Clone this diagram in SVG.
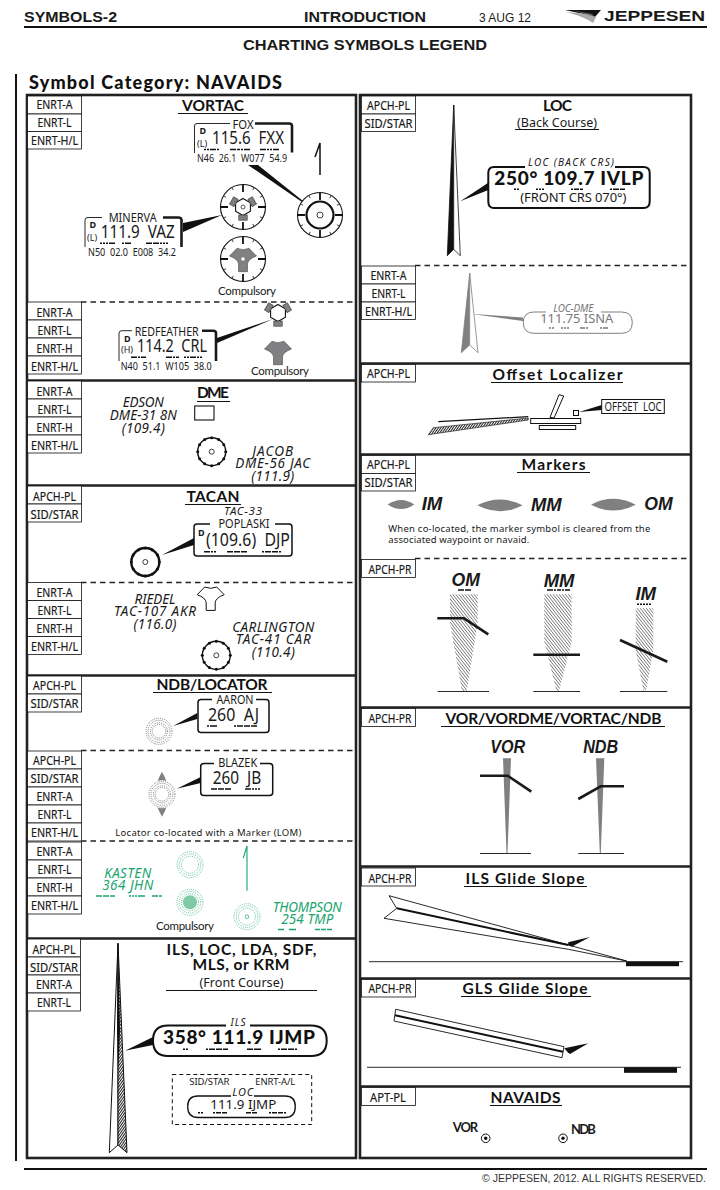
<svg xmlns="http://www.w3.org/2000/svg" xmlns:xlink="http://www.w3.org/1999/xlink" width="720" height="1190" viewBox="0 0 720 1190">
<style>
text{font-family:"Noto Sans","Liberation Sans",sans-serif;fill:#1a1a1a;white-space:pre}
.hd{font-family:"Liberation Sans",Arial,sans-serif;font-weight:700}
.ti{font-family:"Lato","Liberation Sans",sans-serif;font-weight:700;font-size:15.500px;text-anchor:middle;fill:#111}
.tg{font-size:12.500px;text-anchor:middle;stroke:#1a1a1a;stroke-width:.2}
.lb{font-size:12.500px;text-anchor:middle}
.f{font-size:17.500px}
.fb{font-family:"Lato","Liberation Sans",sans-serif;font-weight:900;font-size:19px;fill:#111}
.co{font-size:10px}
.it{font-style:italic;font-size:13.500px;text-anchor:middle}
.bi{font-family:"Liberation Sans",sans-serif;font-weight:700;font-style:italic;font-size:18px}
.sm{font-size:9.500px}
.cp{font-family:"Lato",sans-serif;font-size:11.500px;text-anchor:middle}
.gr{fill:#1aa56e}
.tr{stroke:#111;stroke-width:.8;fill:#fff}
.frame{fill:none;stroke:#222;stroke-width:2.600}
.div{stroke:#222;stroke-width:2.600;fill:none}
.dash{stroke:#222;stroke-width:1.600;stroke-dasharray:5.500 4;fill:none}
.ul{stroke:#111;stroke-width:1}
.m{fill:none;stroke:#111;stroke-width:1.500}
.hv{fill:none;stroke:#1a1a1a;stroke-width:2.600}
.thin{fill:none;stroke:#111;stroke-width:.9}
.lead{fill:#111}
.ring{fill:none;stroke:#444;stroke-width:.7;stroke-dasharray:.9 1.100}
.gring{fill:none;stroke:#1aa56e;stroke-width:.7;stroke-dasharray:.9 1.100}
.gy{fill:#808082}
</style>
<defs>
<pattern id="hatch" width="2.400" height="2.400" patternUnits="userSpaceOnUse" patternTransform="rotate(-38)">
<rect width="2.400" height="2.400" fill="#fff"/><rect width=".8" height="2.400" fill="#777"/>
</pattern>
<pattern id="hatchd" width="2" height="2" patternUnits="userSpaceOnUse" patternTransform="rotate(35)">
<rect width="2" height="2" fill="#fff"/><rect width="1" height="2" fill="#222"/>
</pattern>
<g id="rose">
<circle r="22.500" fill="#fff" stroke="#111" stroke-width="1.100"/>
<path d="M0-22.500V-15M0 22.500V15M-22.500 0H-15M22.500 0H15" stroke="#111" stroke-width="1.800" fill="none"/>
<path d="M11.200-19.500 9.700-16.900M19.500-11.200 16.900-9.700M19.500 11.200 16.900 9.700M11.200 19.500 9.700 16.900M-11.200 19.500-9.700 16.900M-19.500 11.200-16.900 9.700M-19.500-11.200-16.900-9.700M-11.200-19.500-9.700-16.900" stroke="#111" stroke-width=".8" fill="none"/>
</g>
<path id="ypath" d="M-13.500-3-6-10.700Q0-8 6-10.700L13.500-3Q5 0 4.500 5V12.700H-4.500V5Q-5 0-13.500-3Z"/>
<g id="hexy">
<path d="M0-8.500 7.400-4.200V4.200L0 8.500-7.400 4.200V-4.200Z" fill="#fff" stroke="#111" stroke-width="1.100"/>
<rect x="-4.200" y="8" width="8.400" height="5.200" class="gy" stroke="#333" stroke-width=".6"/>
<rect x="-4.200" y="8" width="8.400" height="5.200" class="gy" stroke="#333" stroke-width=".6" transform="rotate(120)"/>
<rect x="-4.200" y="8" width="8.400" height="5.200" class="gy" stroke="#333" stroke-width=".6" transform="rotate(240)"/>
</g>
<g id="bumps" fill="#111">
<circle cx="0" cy="-14" r="1.500"/><circle cx="7" cy="-12.100" r="1.500"/><circle cx="12.100" cy="-7" r="1.500"/><circle cx="14" cy="0" r="1.500"/><circle cx="12.100" cy="7" r="1.500"/><circle cx="7" cy="12.100" r="1.500"/><circle cx="0" cy="14" r="1.500"/><circle cx="-7" cy="12.100" r="1.500"/><circle cx="-12.100" cy="7" r="1.500"/><circle cx="-14" cy="0" r="1.500"/><circle cx="-12.100" cy="-7" r="1.500"/><circle cx="-7" cy="-12.100" r="1.500"/>
</g>
<g id="ndb"><circle r="13" class="ring"/><circle r="11" class="ring"/><circle r="8.500" class="ring"/><circle r="6.800" class="ring"/></g>
<g id="gndb"><circle r="13" class="gring"/><circle r="10.800" class="gring"/><circle r="8.500" class="gring"/></g>
</defs>
<rect width="720" height="1190" fill="#fff"/>

<g id="header">
<text class="hd" x="24" y="22" font-size="14.800" textLength="93" lengthAdjust="spacingAndGlyphs">SYMBOLS-2</text>
<text class="hd" x="304" y="22" font-size="14.800" textLength="122" lengthAdjust="spacingAndGlyphs">INTRODUCTION</text>
<text style="font-family:'Liberation Sans',sans-serif" x="479" y="22" font-size="12" textLength="52">3 AUG 12</text>
<g id="logo"><path d="M565 10H601L595 17 588 15Z" fill="#111"/><path d="M566 12 589 14 596 17 593 23Q585 17 566 12Z" fill="#aaa"/><path d="M573 10.500 592 14 594 16.500Z" fill="#666"/></g>
<text class="hd" x="604" y="21" font-size="14.800" textLength="101" lengthAdjust="spacingAndGlyphs">JEPPESEN</text>
<line x1="24" y1="27" x2="707" y2="27" stroke="#111" stroke-width="2"/>
<text class="hd" x="365" y="50" font-size="15.500" text-anchor="middle" textLength="244" lengthAdjust="spacingAndGlyphs">CHARTING SYMBOLS LEGEND</text>
<line x1="16" y1="74" x2="16" y2="1161" stroke="#111" stroke-width="2"/>
<text x="29" y="89" style="font-family:Lato,sans-serif;font-weight:900;font-size:18px;fill:#111" textLength="253">Symbol Category: NAVAIDS</text>
<line x1="24" y1="1169" x2="707" y2="1169" stroke="#111" stroke-width="2"/>
<text style="font-family:'Liberation Sans',sans-serif;fill:#333" x="706" y="1182" font-size="10.500" text-anchor="end" textLength="224">© JEPPESEN, 2012. ALL RIGHTS RESERVED.</text>
</g>

<g id="frames">
<rect class="frame" x="27" y="95" width="329" height="1063"/>
<rect class="frame" x="360" y="95" width="331" height="1063"/>
<path class="div" d="M27 380.500H356M27 485.500H356M27 675.500H356M27 938.500H356M360 363.500H691M360 454.500H691M360 707.500H691M360 866.500H691M360 978.500H691M360 1086.500H691"/>
<path class="dash" d="M81 302H356M81 582.500H356M81 750.500H356M81 841H356M415 265.500H691M415 558.500H691"/>
</g>

<g id="tags">
<g class="tr">
<rect x="27.500" y="96" width="54" height="18"/><rect x="27.500" y="114" width="54" height="17.500"/><rect x="27.500" y="131.500" width="54" height="17.500"/>
<rect x="27.500" y="302" width="54" height="18"/><rect x="27.500" y="320" width="54" height="18"/><rect x="27.500" y="338" width="54" height="18"/><rect x="27.500" y="356" width="54" height="18"/>
<rect x="27.500" y="381" width="54" height="18"/><rect x="27.500" y="399" width="54" height="18"/><rect x="27.500" y="417" width="54" height="18"/><rect x="27.500" y="435" width="54" height="18"/>
<rect x="27.500" y="486" width="54" height="18"/><rect x="27.500" y="504" width="54" height="18"/>
<rect x="27.500" y="582.500" width="54" height="18"/><rect x="27.500" y="600.500" width="54" height="18"/><rect x="27.500" y="618.500" width="54" height="18"/><rect x="27.500" y="636.500" width="54" height="18"/>
<rect x="27.500" y="676" width="54" height="18"/><rect x="27.500" y="694" width="54" height="18"/>
<rect x="27.500" y="751" width="54" height="18"/><rect x="27.500" y="769" width="54" height="18"/><rect x="27.500" y="787" width="54" height="18"/><rect x="27.500" y="805" width="54" height="18"/><rect x="27.500" y="823" width="54" height="18"/>
<rect x="27.500" y="842" width="54" height="18"/><rect x="27.500" y="860" width="54" height="18"/><rect x="27.500" y="878" width="54" height="18"/><rect x="27.500" y="896" width="54" height="18"/>
<rect x="27.500" y="939" width="53" height="18"/><rect x="27.500" y="957" width="53" height="18"/><rect x="27.500" y="975" width="53" height="18"/><rect x="27.500" y="993" width="53" height="18"/>
<rect x="361.500" y="96" width="54" height="18"/><rect x="361.500" y="114" width="54" height="17.500"/>
<rect x="361.500" y="266" width="54" height="18"/><rect x="361.500" y="284" width="54" height="18"/><rect x="361.500" y="302" width="54" height="17.500"/>
<rect x="361.500" y="364.500" width="54" height="17.500"/>
<rect x="361.500" y="455.500" width="54" height="18"/><rect x="361.500" y="473.500" width="54" height="17.500"/>
<rect x="361.500" y="559.500" width="54" height="18"/>
<rect x="361.500" y="708.500" width="54" height="18"/>
<rect x="361.500" y="868" width="54" height="18"/>
<rect x="361.500" y="979.500" width="54" height="17.500"/>
<rect x="361.500" y="1087.500" width="54" height="18"/>
</g>
<g>
<text class="tg" x="54.500" y="108.500" textLength="36" lengthAdjust="spacingAndGlyphs">ENRT-A</text><text class="tg" x="54.500" y="127" textLength="34" lengthAdjust="spacingAndGlyphs">ENRT-L</text><text class="tg" x="54.500" y="145" textLength="47" lengthAdjust="spacingAndGlyphs">ENRT-H/L</text>
<text class="tg" x="54.500" y="316.500" textLength="36" lengthAdjust="spacingAndGlyphs">ENRT-A</text><text class="tg" x="54.500" y="334.500" textLength="34" lengthAdjust="spacingAndGlyphs">ENRT-L</text><text class="tg" x="54.500" y="352.500" textLength="36" lengthAdjust="spacingAndGlyphs">ENRT-H</text><text class="tg" x="54.500" y="370.500" textLength="47" lengthAdjust="spacingAndGlyphs">ENRT-H/L</text>
<text class="tg" x="54.500" y="395.500" textLength="36" lengthAdjust="spacingAndGlyphs">ENRT-A</text><text class="tg" x="54.500" y="413.500" textLength="34" lengthAdjust="spacingAndGlyphs">ENRT-L</text><text class="tg" x="54.500" y="431.500" textLength="36" lengthAdjust="spacingAndGlyphs">ENRT-H</text><text class="tg" x="54.500" y="449.500" textLength="47" lengthAdjust="spacingAndGlyphs">ENRT-H/L</text>
<text class="tg" x="54.500" y="500.500" textLength="43" lengthAdjust="spacingAndGlyphs">APCH-PL</text><text class="tg" x="54.500" y="518.500" textLength="48" lengthAdjust="spacingAndGlyphs">SID/STAR</text>
<text class="tg" x="54.500" y="596.500" textLength="36" lengthAdjust="spacingAndGlyphs">ENRT-A</text><text class="tg" x="54.500" y="614.500" textLength="34" lengthAdjust="spacingAndGlyphs">ENRT-L</text><text class="tg" x="54.500" y="632.500" textLength="36" lengthAdjust="spacingAndGlyphs">ENRT-H</text><text class="tg" x="54.500" y="650.500" textLength="47" lengthAdjust="spacingAndGlyphs">ENRT-H/L</text>
<text class="tg" x="54.500" y="689.500" textLength="43" lengthAdjust="spacingAndGlyphs">APCH-PL</text><text class="tg" x="54.500" y="707.500" textLength="48" lengthAdjust="spacingAndGlyphs">SID/STAR</text>
<text class="tg" x="54.500" y="764.500" textLength="43" lengthAdjust="spacingAndGlyphs">APCH-PL</text><text class="tg" x="54.500" y="782.500" textLength="48" lengthAdjust="spacingAndGlyphs">SID/STAR</text><text class="tg" x="54.500" y="800.500" textLength="36" lengthAdjust="spacingAndGlyphs">ENRT-A</text><text class="tg" x="54.500" y="818.500" textLength="34" lengthAdjust="spacingAndGlyphs">ENRT-L</text><text class="tg" x="54.500" y="836.500" textLength="47" lengthAdjust="spacingAndGlyphs">ENRT-H/L</text>
<text class="tg" x="54.500" y="855.500" textLength="36" lengthAdjust="spacingAndGlyphs">ENRT-A</text><text class="tg" x="54.500" y="873.500" textLength="34" lengthAdjust="spacingAndGlyphs">ENRT-L</text><text class="tg" x="54.500" y="891.500" textLength="36" lengthAdjust="spacingAndGlyphs">ENRT-H</text><text class="tg" x="54.500" y="909.500" textLength="47" lengthAdjust="spacingAndGlyphs">ENRT-H/L</text>
<text class="tg" x="54" y="953.500" textLength="43" lengthAdjust="spacingAndGlyphs">APCH-PL</text><text class="tg" x="54" y="971.500" textLength="48" lengthAdjust="spacingAndGlyphs">SID/STAR</text><text class="tg" x="54" y="988.500" textLength="36" lengthAdjust="spacingAndGlyphs">ENRT-A</text><text class="tg" x="54" y="1006.500" textLength="34" lengthAdjust="spacingAndGlyphs">ENRT-L</text>
<text class="tg" x="388.500" y="109.500" textLength="43" lengthAdjust="spacingAndGlyphs">APCH-PL</text><text class="tg" x="388.500" y="127.500" textLength="48" lengthAdjust="spacingAndGlyphs">SID/STAR</text>
<text class="tg" x="388.500" y="279.500" textLength="36" lengthAdjust="spacingAndGlyphs">ENRT-A</text><text class="tg" x="388.500" y="297.500" textLength="34" lengthAdjust="spacingAndGlyphs">ENRT-L</text><text class="tg" x="388.500" y="315.500" textLength="47" lengthAdjust="spacingAndGlyphs">ENRT-H/L</text>
<text class="tg" x="388.500" y="377.500" textLength="43" lengthAdjust="spacingAndGlyphs">APCH-PL</text>
<text class="tg" x="388.500" y="468.500" textLength="43" lengthAdjust="spacingAndGlyphs">APCH-PL</text><text class="tg" x="388.500" y="486.500" textLength="48" lengthAdjust="spacingAndGlyphs">SID/STAR</text>
<text class="tg" x="390" y="573.500" textLength="43" lengthAdjust="spacingAndGlyphs">APCH-PR</text>
<text class="tg" x="390" y="722.500" textLength="43" lengthAdjust="spacingAndGlyphs">APCH-PR</text>
<text class="tg" x="390" y="882.500" textLength="43" lengthAdjust="spacingAndGlyphs">APCH-PR</text>
<text class="tg" x="390" y="992.500" textLength="43" lengthAdjust="spacingAndGlyphs">APCH-PR</text>
<text class="tg" x="388" y="1101.500" textLength="36" lengthAdjust="spacingAndGlyphs">APT-PL</text>
</g>
</g>

<g id="titles">
<text class="ti" x="213" y="111" textLength="62">VORTAC</text><line class="ul" x1="178" y1="113.500" x2="248" y2="113.500"/>
<text class="ti" x="213" y="398" textLength="32">DME</text><line class="ul" x1="197" y1="401.500" x2="230" y2="401.500"/>
<text class="ti" x="213" y="502" textLength="53">TACAN</text><line class="ul" x1="185" y1="504.500" x2="241" y2="504.500"/>
<text class="ti" x="212" y="690" textLength="111">NDB/LOCATOR</text><line class="ul" x1="153" y1="692.500" x2="272" y2="692.500"/>
<text class="ti" x="241.500" y="955" textLength="150">ILS, LOC, LDA, SDF,</text>
<text class="ti" x="241" y="970" textLength="97">MLS, or KRM</text>
<text class="lb" x="241.500" y="987" textLength="84">(Front Course)</text><line class="ul" x1="166" y1="990.500" x2="317" y2="990.500"/>
<text class="ti" x="557.500" y="111" textLength="29">LOC</text>
<text class="lb" x="557" y="127" textLength="80">(Back Course)</text><line class="ul" x1="515" y1="129.500" x2="599" y2="129.500"/>
<text class="ti" x="557.500" y="380" textLength="130">Offset Localizer</text><line class="ul" x1="491" y1="382.500" x2="623" y2="382.500"/>
<text class="ti" x="553.500" y="470" textLength="64">Markers</text><line class="ul" x1="517" y1="472.500" x2="590" y2="472.500"/>
<text class="ti" x="553.500" y="724" textLength="216">VOR/VORDME/VORTAC/NDB</text><line class="ul" x1="441" y1="726.500" x2="665" y2="726.500"/>
<text class="ti" x="525" y="884" textLength="119">ILS Glide Slope</text><line class="ul" x1="464" y1="886.500" x2="587" y2="886.500"/>
<text class="ti" x="525" y="994" textLength="125">GLS Glide Slope</text><line class="ul" x1="461" y1="996.500" x2="591" y2="996.500"/>
<text class="ti" x="525.500" y="1103" textLength="70">NAVAIDS</text><line class="ul" x1="490" y1="1105.500" x2="562" y2="1105.500"/>
</g>

<g id="connectors">
<polygon class="lead" points="248,165 258,165 303,201 302,202"/>
<polygon class="lead" points="183,223 183,232 222,215"/>
<polygon class="lead" points="217,338 217,343 273,319"/>
<polygon class="lead" points="194,538 194,545 162,555"/>
<polygon class="lead" points="197.300,713 197.300,719 173,726"/>
<polygon class="lead" points="200.700,777 200.700,783 176.700,788.700"/>
<polygon class="lead" points="153,1037 153,1045 125,1050.700"/>
<polygon class="lead" points="488.300,182.700 488.300,190 460.300,201.300"/>
<polygon class="gy" points="523,317.500 523,321 473.700,314.300 473.700,314"/>
<polygon class="lead" points="601.700,405 601.700,410 579,412"/>
</g>

<g id="vortac-fox">
<path class="thin" d="M230 123.500H197Q194.500 123.500 194.500 126V153"/>
<path class="hv" d="M255 123.500H289Q292 123.500 292 126V152.500"/>
<text class="lb" x="243" y="128.500" textLength="21" lengthAdjust="spacingAndGlyphs">FOX</text>
<text x="199.500" y="134" style="font-weight:700;font-size:9px">D</text>
<text x="197" y="147" style="font-size:9px">(L)</text>
<text class="f" x="212" y="144" textLength="72" lengthAdjust="spacingAndGlyphs">115.6  FXX</text>
<path class="m" d="M204 149.500h2m1 0h2m1 0h6m1 0h2M230 149.500h6m1 0h3m1 0h2m1 0h6M260 149.500h6m1 0h2m1 0h2m1 0h6"/>
<text class="co" x="197" y="162" textLength="90" lengthAdjust="spacingAndGlyphs">N46  26.1  W077  54.9</text>
</g>
<g id="north-arrow"><path d="M320 175V143L315 157" fill="none" stroke="#111" stroke-width="1.500"/></g>
<g id="vortac-symbol" transform="translate(320,215)">
<use xlink:href="#rose" href="#rose"/>
<circle r="13.500" fill="#fff" stroke="#111" stroke-width="2.200"/><circle r="3" fill="#fff" stroke="#111" stroke-width=".8"/>
</g>

<g id="vortac-minerva">
<path class="thin" d="M102 217.500H88Q85 217.500 85 220V247"/>
<path class="hv" d="M163 217.500H178Q181.500 217.500 181.500 220V247"/>
<text class="lb" x="132.700" y="222" textLength="48" lengthAdjust="spacingAndGlyphs">MINERVA</text>
<text x="89.500" y="228" style="font-weight:700;font-size:9px">D</text>
<text x="87" y="241" style="font-size:9px">(L)</text>
<text class="f" x="100.700" y="238" textLength="74" lengthAdjust="spacingAndGlyphs">111.9  VAZ</text>
<path class="m" d="M100 243.300h2m1 0h2m1 0h2m1 0h6M122 243.300h2m1 0h6M146 243.300h6m1 0h6m1 0h2m1 0h2m1 0h2"/>
<text class="co" x="88" y="256" textLength="88" lengthAdjust="spacingAndGlyphs">N50  02.0  E008  34.2</text>
</g>
<g id="vor-minerva" transform="translate(243,207)"><use xlink:href="#rose" href="#rose"/><use xlink:href="#hexy" href="#hexy"/><circle r="2" fill="#fff" stroke="#111" stroke-width=".7"/></g>
<g id="vor-compulsory" transform="translate(243,259)"><use xlink:href="#rose" href="#rose"/><use xlink:href="#ypath" href="#ypath" class="gy" stroke="#333" stroke-width=".5"/><circle r="1.800" fill="#fff"/></g>
<text class="cp" x="247" y="295" textLength="58">Compulsory</text>

<g id="vortac-redfeather">
<path class="thin" d="M132 330.700H122Q119 330.700 119 333V361"/>
<path class="hv" d="M202 330.700H213Q216 330.700 216 333V361"/>
<text class="lb" x="166.700" y="335.500" textLength="64" lengthAdjust="spacingAndGlyphs">REDFEATHER</text>
<text x="124" y="342" style="font-weight:700;font-size:9px">D</text>
<text x="121" y="353" style="font-size:9px">(H)</text>
<text class="f" x="137" y="352" textLength="70" lengthAdjust="spacingAndGlyphs">114.2  CRL</text>
<path class="m" d="M131 357.300h6m1 0h2m1 0h5M166 357.300h6m1 0h2m1 0h3M184 357.300h2m1 0h2m1 0h6m1 0h2m1 0h2"/>
<text class="co" x="120.700" y="369.500" textLength="91" lengthAdjust="spacingAndGlyphs">N40  51.1  W105  38.0</text>
</g>
<g id="vortac-enroute" transform="translate(278,313)"><use xlink:href="#hexy" href="#hexy"/></g>
<g id="vortac-enroute-compulsory" transform="translate(278,352)"><use xlink:href="#ypath" href="#ypath" class="gy" stroke="#333" stroke-width=".5"/></g>
<text class="cp" x="280" y="375" textLength="58">Compulsory</text>

<g id="dme-edson">
<text class="it" x="143.300" y="407" textLength="41">EDSON</text>
<text class="it" x="143.300" y="420" textLength="67">DME-31 8N</text>
<text class="it" x="143.300" y="433" textLength="43">(109.4)</text>
<rect x="194.700" y="406" width="19.300" height="14" fill="#fff" stroke="#111" stroke-width="1.100"/>
</g>
<g id="dme-jacob">
<circle cx="211.700" cy="451.700" r="14" fill="#fff" stroke="#111" stroke-width="1.400"/><circle cx="211.700" cy="451.700" r="2.500" fill="#fff" stroke="#111" stroke-width=".8"/>
<use xlink:href="#bumps" href="#bumps" transform="translate(211.700,451.700)"/>
<text class="it" x="272.700" y="456" textLength="41">JACOB</text>
<text class="it" x="272.700" y="468" textLength="75">DME-56 JAC</text>
<text class="it" x="272.700" y="481" textLength="43">(111.9)</text>
</g>

<g id="tacan-poplaski">
<text class="it" x="243" y="515" style="font-size:11.500px" textLength="38">TAC-33</text>
<path d="M210 524H197Q194 524 194 527V553Q194 556 197 556H289Q292 556 292 553V527Q292 524 289 524H275" fill="#fff" stroke="#111" stroke-width="1.500"/>
<text class="lb" x="244" y="528" textLength="51" lengthAdjust="spacingAndGlyphs">POPLASKI</text>
<text x="198" y="536" style="font-weight:700;font-size:9px">D</text>
<text class="f" x="206" y="546" textLength="84" lengthAdjust="spacingAndGlyphs">(109.6)  DJP</text>
<path class="m" d="M204 551.700h6m1 0h2m1 0h2M227 551.700h6m1 0h6m1 0h6M262 551.700h2m1 0h6m1 0h6m1 0h2"/>
</g>
<g id="tacan-symbol" transform="translate(145.300,562)">
<circle r="14" fill="#fff" stroke="#111" stroke-width="2.400"/><circle r="2.500" fill="#fff" stroke="#111" stroke-width=".8"/><use xlink:href="#bumps" href="#bumps"/>
</g>
<g id="tacan-riedel">
<use xlink:href="#ypath" href="#ypath" transform="translate(210.700,597.700)" fill="#fff" stroke="#111" stroke-width="1"/>
<text class="it" x="155" y="604" textLength="41">RIEDEL</text>
<text class="it" x="155" y="616" textLength="82">TAC-107 AKR</text>
<text class="it" x="155" y="629" textLength="43">(116.0)</text>
</g>
<g id="tacan-carlington">
<circle cx="216.300" cy="655.300" r="14" fill="#fff" stroke="#111" stroke-width="1.400"/><circle cx="216.300" cy="655.300" r="2.500" fill="#fff" stroke="#111" stroke-width=".8"/>
<use xlink:href="#bumps" href="#bumps" transform="translate(216.300,655.300)"/>
<text class="it" x="273.300" y="632" textLength="82">CARLINGTON</text>
<text class="it" x="273.300" y="644" textLength="75">TAC-41 CAR</text>
<text class="it" x="273.300" y="657" textLength="43">(110.4)</text>
</g>

<g id="ndb-aaron">
<path d="M212 699.500H201Q198 699.500 198 702.500V729.500Q198 732.500 201 732.500H266Q269 732.500 269 729.500V702.500Q269 699.500 266 699.500H256" fill="#fff" stroke="#111" stroke-width="1.500"/>
<text class="lb" x="235" y="703.500" textLength="37" lengthAdjust="spacingAndGlyphs">AARON</text>
<text class="f" x="208" y="720.700" textLength="51" lengthAdjust="spacingAndGlyphs">260  AJ</text>
<path class="m" d="M207 726h2m1 0h7M234 726h2m1 0h6m1 0h6m1 0h6"/>
</g>
<use id="ndb-aaron-symbol" xlink:href="#ndb" href="#ndb" transform="translate(159,731.300)"/>
<g id="ndb-blazek">
<path d="M214 763.500H204Q200.700 763.500 200.700 766.500V792.500Q200.700 795.500 204 795.500H269.500Q272.700 795.500 272.700 792.500V766.500Q272.700 763.500 269.500 763.500H260" fill="#fff" stroke="#111" stroke-width="1.500"/>
<text class="lb" x="237.700" y="767" textLength="39" lengthAdjust="spacingAndGlyphs">BLAZEK</text>
<text class="f" x="212.700" y="784" textLength="48.500" lengthAdjust="spacingAndGlyphs">260  JB</text>
<path class="m" d="M211 789h6m1 0h6m1 0h6M245 789h6m1 0h2m1 0h2m1 0h2"/>
</g>
<g id="lom" transform="translate(162,794.300)">
<path d="M0-22.500Q6-12 8 0Q6 12 0 22.500Q-6 12-8 0Q-6-12 0-22.500Z" class="gy"/>
<circle r="14" fill="#fff"/><use xlink:href="#ndb" href="#ndb"/>
</g>
<text class="sm" x="208.300" y="835.500" text-anchor="middle" textLength="186">Locator co-located with a Marker (LOM)</text>

<g id="ndb-enroute">
<use id="green-ndb-1" xlink:href="#gndb" href="#gndb" transform="translate(190,864.700)"/>
<g id="green-ndb-2" transform="translate(190,902.300)"><use xlink:href="#gndb" href="#gndb"/><circle r="7" fill="#7fc9a6"/></g>
<g id="green-ndb-3" transform="translate(247,916.700)"><use xlink:href="#gndb" href="#gndb"/><circle r="1.800" fill="none" stroke="#1aa56e" stroke-width=".7"/></g>
<path d="M247 890.700V846L243.300 858" fill="none" stroke="#1aa56e" stroke-width="1.100"/>
<text class="it gr" x="127.700" y="878" textLength="47">KASTEN</text>
<text class="it gr" x="127.700" y="890" textLength="51">364 JHN</text>
<path class="m" style="stroke:#1aa56e" d="M96 896h6m1 0h6m1 0h5M129 896h2m1 0h2m1 0h2m1 0h7M152 896h6m1 0h3"/>
<text class="it gr" x="307.300" y="912" textLength="69">THOMPSON</text>
<text class="it gr" x="307.300" y="923.500" textLength="52">254 TMP</text>
<path class="m" style="stroke:#1aa56e" d="M278 929.500h6M289 929.500h7M315 929.500h5m1 0h5m1 0h5"/>
<text class="cp" x="185" y="930" textLength="58">Compulsory</text>
</g>

<g id="ils-front">
<path d="M118 943.300 109.300 1152.700 118 1145Z" fill="#fff" stroke="#111" stroke-width="1"/>
<path d="M118 943.300 127 1152.700 118 1145Z" fill="url(#hatchd)" stroke="#111" stroke-width="1"/>
<path d="M118 943.300 120 1030 118.500 1070 117 1030Z" fill="#111"/>
<path d="M168 1025.500Q153 1025.500 153 1040.500Q153 1056 168 1056H311Q326.700 1056 326.700 1040.500Q326.700 1025.500 311 1025.500H250M226 1025.500H168" fill="#fff" stroke="#111" stroke-width="2"/>
<text class="it" x="238" y="1025.500" style="font-size:10px" textLength="15">ILS</text>
<text class="fb" x="163" y="1043.500" textLength="152">358° 111.9 IJMP</text>
<path class="m" d="M183 1049.300h2m1 0h2M206 1049.300h2m1 0h6m1 0h6m1 0h5M247 1049.300h6m1 0h7M278 1049.300h2m1 0h6m1 0h6m1 0h2"/>
<rect x="172.300" y="1074.500" width="139.400" height="50" fill="#fff" stroke="#111" stroke-width="1" stroke-dasharray="4 3"/>
<text class="sm" x="209.300" y="1084.500" text-anchor="middle" textLength="40">SID/STAR</text>
<text class="sm" x="275.300" y="1084.500" text-anchor="middle" textLength="40">ENRT-A/L</text>
<path d="M198 1096Q187.700 1096 187.700 1106.500Q187.700 1117.500 198 1117.500H285Q295.300 1117.500 295.300 1106.500Q295.300 1096 285 1096H254M231 1096H198" fill="none" stroke="#111" stroke-width="1.300"/>
<text class="it" x="242.700" y="1096" style="font-size:11px" textLength="21">LOC</text>
<text class="lb" x="243.300" y="1108.500" textLength="66" lengthAdjust="spacingAndGlyphs">111.9 IJMP</text>
<path class="m" d="M198 1112.700h2m1 0h2M213 1112.700h2m1 0h5m1 0h5M246 1112.700h5m1 0h5M269 1112.700h2m1 0h5m1 0h5m1 0h2"/>
</g>

<g id="loc-back">
<path d="M453.700 105 447.300 255.700 453.700 249.300Z" fill="#111" stroke="#111" stroke-width=".8"/>
<path d="M453.700 105 460.300 255.700 453.700 249.300Z" fill="#fff" stroke="#111" stroke-width=".8"/>
<path d="M525 167H494Q488.300 167 488.300 173V201.500Q488.300 208 494 208H643.500Q649.700 208 649.700 201.500V173Q649.700 167 643.500 167H615" fill="#fff" stroke="#111" stroke-width="2"/>
<text class="it" x="571" y="166" style="font-size:10px" textLength="86">LOC (BACK CRS)</text>
<text class="fb" x="494.300" y="185" textLength="149">250° 109.7 IVLP</text>
<path class="m" d="M514 189.300h2m1 0h2M536 189.300h2m1 0h2m1 0h2M571 189.300h2m1 0h5m1 0h3M610 189.300h2m1 0h6m1 0h5"/>
<text class="lb" x="573.300" y="202" style="font-size:13px" textLength="106">(FRONT CRS 070°)</text>
</g>

<g id="loc-dme">
<path d="M469.700 273.300 461.300 352.700 469.700 345Z" class="gy" stroke="#808082" stroke-width=".8"/>
<path d="M469.700 273.300 478 352.700 469.700 345Z" fill="#fff" stroke="#808082" stroke-width=".8"/>
<path d="M546 312H534Q523.300 312 523.300 322.500Q523.300 333.300 534 333.300H621.500Q632.300 333.300 632.300 322.500Q632.300 312 621.500 312H601" fill="#fff" stroke="#808082" stroke-width="1"/>
<text class="it" x="573.300" y="312" style="font-size:10px;fill:#777" textLength="40">LOC-DME</text>
<text class="lb" x="576.700" y="323" style="font-size:13px;fill:#777" textLength="73" lengthAdjust="spacingAndGlyphs">111.75 ISNA</text>
<path class="m" style="stroke:#777" d="M549 328h2m1 0h2M561 328h2m1 0h2m1 0h2M580 328h5m1 0h2M600 328h2m1 0h5"/>
</g>

<g id="offset-loc">
<path d="M438.300 421.700 528.300 416.700" stroke="#111" stroke-width="1.200" fill="none"/>
<path d="M428.300 434.700 528.300 420 528.300 418 433.300 427.700Z" fill="url(#hatchd)" stroke="#111" stroke-width=".6"/>
<rect x="530.700" y="418.500" width="50" height="5" fill="#fff" stroke="#111" stroke-width="1"/>
<rect x="539.300" y="425.500" width="36.400" height="4" fill="#fff" stroke="#111" stroke-width="1"/>
<path d="M550 417.300 559 394.700 563.700 396 554 418Z" fill="#fff" stroke="#111" stroke-width="1"/>
<rect x="573.500" y="410.500" width="5" height="5" fill="#fff" stroke="#111" stroke-width="1"/>
<rect x="601.700" y="399.500" width="62.600" height="14" fill="#fff" stroke="#111" stroke-width="1"/>
<text class="lb" x="633" y="410.700" textLength="57" lengthAdjust="spacingAndGlyphs">OFFSET  LOC</text>
</g>

<g id="markers">
<path d="M387.700 504.500Q401 495.500 414.300 504.500Q401 513.500 387.700 504.500Z" class="gy"/>
<text class="bi" x="421.700" y="510" textLength="20.600" lengthAdjust="spacingAndGlyphs">IM</text>
<path d="M477.300 505.300Q500 493.500 522.700 505.300Q500 517 477.300 505.300Z" class="gy"/>
<text class="bi" x="531" y="511" textLength="30.700" lengthAdjust="spacingAndGlyphs">MM</text>
<path d="M591 504.700Q613 493 635.700 504.700Q613 516.500 591 504.700Z" class="gy"/>
<text class="bi" x="644.300" y="510" textLength="28.400" lengthAdjust="spacingAndGlyphs">OM</text>
<text class="sm" x="388.300" y="532" textLength="262">When co-located, the marker symbol is cleared from the</text>
<text class="sm" x="388.300" y="543" textLength="141">associated waypoint or navaid.</text>
</g>

<g id="marker-om">
<text class="bi" x="465.700" y="585.500" text-anchor="middle" textLength="28.400" lengthAdjust="spacingAndGlyphs">OM</text>
<path class="m" d="M458 590h6m1 0h6"/>
<path d="M450 594.300H477.700V623L466.700 691H462L450 623Z" fill="url(#hatch)"/>
<path class="hv" d="M437.300 618.300H464L488.300 634.300"/>
<line class="thin" x1="437.700" y1="691.500" x2="489" y2="691.500"/>
</g>
<g id="marker-mm">
<text class="bi" x="559" y="586.500" text-anchor="middle" textLength="30.700" lengthAdjust="spacingAndGlyphs">MM</text>
<path class="m" d="M547 590h6m1 0h2m1 0h4m1 0h2m1 0h5"/>
<path d="M544.300 594.300H571.700V642L559 691H556.500L544.300 642Z" fill="url(#hatch)"/>
<path class="hv" d="M533.300 654.700H580"/>
<line class="thin" x1="533.300" y1="691.500" x2="580" y2="691.500"/>
</g>
<g id="marker-im">
<text class="bi" x="645.700" y="600" text-anchor="middle" textLength="20.600" lengthAdjust="spacingAndGlyphs">IM</text>
<path class="m" d="M637 604.300h2m1 0h2m1 0h2m1 0h2m1 0h2"/>
<path d="M635.700 608.300H653.300V650L646 691H643.500L635.700 650Z" fill="url(#hatch)"/>
<path class="hv" d="M620 640 667.300 661.700"/>
<line class="thin" x1="620" y1="691.500" x2="667.300" y2="691.500"/>
</g>

<g id="pr-vor">
<text class="bi" x="507.700" y="753" text-anchor="middle" textLength="35" lengthAdjust="spacingAndGlyphs">VOR</text>
<path d="M503 758.300H511L507.500 853H506.500Z" class="gy"/>
<path class="hv" d="M480 775.700H507.700L531.300 791.700"/>
<line class="thin" x1="480" y1="853.500" x2="531" y2="853.500"/>
</g>
<g id="pr-ndb">
<text class="bi" x="600.700" y="753" text-anchor="middle" textLength="35" lengthAdjust="spacingAndGlyphs">NDB</text>
<path d="M596 758.300H604.300L600.800 853H599.800Z" class="gy"/>
<path class="hv" d="M578.300 799 600.700 786.300H624"/>
<line class="thin" x1="578.300" y1="853.500" x2="624" y2="853.500"/>
</g>

<g id="ils-gs">
<path d="M389 895.700 396.700 908.300 384 918.300 568.300 949.300 626.700 961 389 895.700Z" fill="#fff" stroke="#111" stroke-width=".9"/>
<path d="M396.700 908.300 568.300 945" stroke="#111" stroke-width="2" fill="none"/>
<path d="M568.300 942.300 590 937 571.700 946.700 568 945Z" fill="#111"/>
<line class="thin" x1="369" y1="961.700" x2="683" y2="961.700"/>
<rect x="626" y="961.700" width="53" height="4.500" fill="#111"/>
</g>
<g id="gls-gs">
<path d="M395.700 1009.300 564 1046.700 562 1057.700 394 1021Z" fill="#fff" stroke="#111" stroke-width=".9"/>
<path d="M395 1015.300 563 1051.700" stroke="#111" stroke-width="2" fill="none"/>
<path d="M564.300 1048.300 588.300 1043.300 570 1054 567.700 1052.300Z" fill="#111"/>
<line class="thin" x1="367" y1="1067.300" x2="681" y2="1067.300"/>
<rect x="624" y="1067.300" width="53" height="5.500" fill="#111"/>
</g>
<g id="apt-navaids">
<text style="font-family:Lato,sans-serif;font-weight:700;font-size:13px" x="452.700" y="1132" textLength="25.500">VOR</text>
<circle cx="485.700" cy="1138.300" r="4.300" fill="#fff" stroke="#111" stroke-width="1"/><circle cx="485.700" cy="1138.300" r="1.700" fill="#111"/>
<text style="font-family:Lato,sans-serif;font-weight:700;font-size:13px" x="571" y="1133.500" textLength="24.700">NDB</text>
<circle cx="563" cy="1138.300" r="4.300" fill="#fff" stroke="#111" stroke-width="1"/><circle cx="563" cy="1138.300" r="1.700" fill="#111"/>
</g>
</svg>
